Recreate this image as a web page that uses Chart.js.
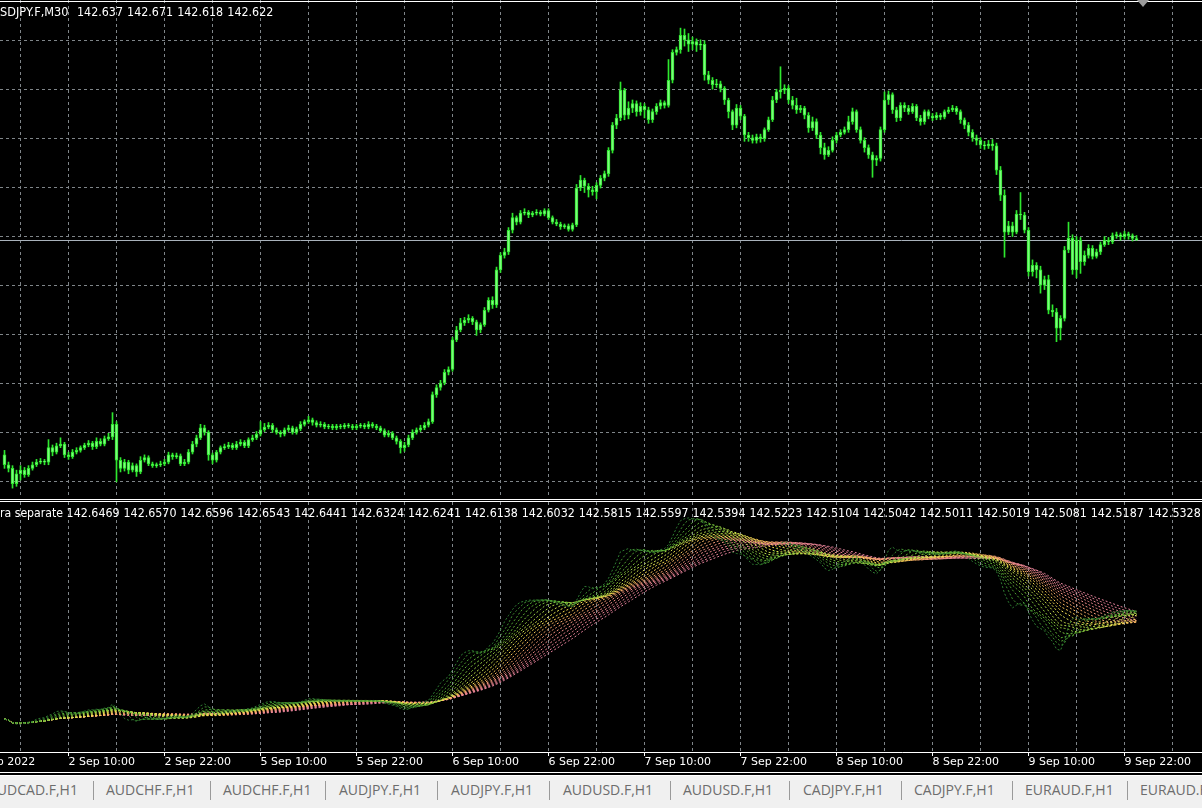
<!DOCTYPE html>
<html>
<head>
<meta charset="utf-8">
<title>USDJPY.F,M30</title>
<script src="https://cdn.jsdelivr.net/npm/chart.js@4.4.1/dist/chart.umd.min.js"></script>
<style>
  html, body { margin: 0; padding: 0; background: #000; }
  body { position: relative; width: 1202px; height: 808px; overflow: hidden; font-family: "DejaVu Sans", sans-serif; }
  canvas { position: absolute; left: 0; }
  #priceChart { top: 0; }
  #ribbonChart { top: 502px; }
  .line { position: absolute; left: 0; width: 1202px; height: 1px; background: #fff; }
  #tabs { position: absolute; left: 0; top: 776px; width: 1202px; height: 32px; background: #f0f0f0;
          font-family: "Open Sans", sans-serif; font-size: 14px; color: #6d6d6d; }
  #tabs span { position: absolute; top: 4px; line-height: 20px; white-space: nowrap; }
  #tabs i { position: absolute; top: 5px; width: 1px; height: 19px; background: #9a9a9a; }
  #shift { position: absolute; left: 1137px; top: 0; width: 0; height: 0;
           border-left: 6px solid transparent; border-right: 6px solid transparent; border-top: 7px solid #9a9a9a; }
</style>
</head>
<body>
<canvas id="priceChart" width="1202" height="498"></canvas>
<canvas id="ribbonChart" width="1202" height="270"></canvas>
<div class="line" style="top:1px"></div>
<div class="line" style="top:499px"></div>
<div class="line" style="top:501px"></div>
<div class="line" style="top:772px"></div>
<div class="line" style="top:775px"></div>
<div id="shift"></div>
<div id="tabs">
  <span style="left:-12px">AUDCAD.F,H1</span><i style="left:93px"></i>
  <span style="left:106px">AUDCHF.F,H1</span><i style="left:210px"></i>
  <span style="left:223px">AUDCHF.F,H1</span><i style="left:325px"></i>
  <span style="left:339px">AUDJPY.F,H1</span><i style="left:437px"></i>
  <span style="left:451px">AUDJPY.F,H1</span><i style="left:549px"></i>
  <span style="left:563px">AUDUSD.F,H1</span><i style="left:670px"></i>
  <span style="left:683px">AUDUSD.F,H1</span><i style="left:789px"></i>
  <span style="left:803px">CADJPY.F,H1</span><i style="left:901px"></i>
  <span style="left:914px">CADJPY.F,H1</span><i style="left:1012px"></i>
  <span style="left:1025px">EURAUD.F,H1</span><i style="left:1127px"></i>
  <span style="left:1140px">EURAUD.F,H1</span>
</div>
<script>
// USDJPY M30, 2 Sep 02:00 .. 9 Sep 23:30 (2022)
const symbol = "USDJPY.F,M30";
const ribbonName = "Extra separate";

const opens = [
  140.23, 140.12, 140.08, 139.91,
  140.02, 140.06, 140.01, 140.08, 140.12, 140.15, 140.16, 140.15, 140.31, 140.26, 140.33, 140.35,
  140.23, 140.21, 140.26, 140.28, 140.31, 140.34, 140.36, 140.32, 140.38, 140.35, 140.41, 140.43,
  140.57, 140.17, 140.08, 140.15, 140.06, 140.11, 140.04, 140.17, 140.20, 140.13, 140.11, 140.12,
  140.13, 140.15, 140.23, 140.21, 140.22, 140.13, 140.15, 140.26, 140.35, 140.42, 140.53, 140.48,
  140.23, 140.17, 140.26, 140.31, 140.32, 140.34, 140.31, 140.35, 140.37, 140.33, 140.40, 140.42,
  140.46, 140.51, 140.54, 140.56, 140.51, 140.48, 140.46, 140.51, 140.53, 140.48, 140.52, 140.57,
  140.60, 140.62, 140.59, 140.56, 140.57, 140.54, 140.55, 140.53, 140.55, 140.54, 140.56, 140.55,
  140.53, 140.55, 140.56, 140.54, 140.57, 140.55, 140.53, 140.50, 140.45, 140.47, 140.42, 140.38,
  140.31, 140.34, 140.42, 140.48, 140.51, 140.53, 140.56, 140.60, 140.90, 140.98, 141.03, 141.15,
  141.18, 141.51, 141.62, 141.70, 141.73, 141.75, 141.71, 141.62, 141.68, 141.84, 141.95, 141.90,
  142.29, 142.45, 142.49, 142.73, 142.87, 142.82, 142.92, 142.93, 142.90, 142.92, 142.93, 142.91,
  142.95, 142.87, 142.82, 142.80, 142.77, 142.78, 142.74, 142.79, 143.20, 143.29, 143.22, 143.18,
  143.16, 143.23, 143.31, 143.36, 143.62, 143.90, 143.98, 144.29, 144.01, 144.09, 144.14, 144.05,
  144.11, 144.07, 143.96, 144.05, 144.11, 144.15, 144.12, 144.40, 144.71, 144.74, 144.90, 144.85,
  144.80, 144.83, 144.79, 144.80, 144.46, 144.40, 144.35, 144.36, 144.31, 144.18, 144.05, 143.90,
  144.09, 144.00, 143.79, 143.76, 143.73, 143.77, 143.75, 143.85, 143.96, 144.18, 144.27, 144.29,
  144.31, 144.18, 144.12, 144.07, 144.09, 144.01, 143.87, 143.94, 143.79, 143.65, 143.57, 143.62,
  143.73, 143.79, 143.82, 143.85, 143.94, 144.05, 143.85, 143.73, 143.65, 143.57, 143.51, 143.53,
  143.85, 144.18, 144.24, 144.07, 143.98, 144.12, 144.09, 144.05, 144.11, 143.98, 143.94, 144.05,
  144.00, 143.98, 144.01, 143.99, 144.05, 144.07, 144.09, 144.05, 143.96, 143.90, 143.82, 143.76,
  143.73, 143.68, 143.67, 143.69, 143.67, 143.40, 143.12, 142.71, 142.78, 142.71, 142.91, 142.90,
  142.73, 142.27, 142.34, 142.29, 142.12, 142.18, 141.84, 141.82, 141.64, 141.75, 142.51, 142.64,
  142.29, 142.62, 142.38, 142.45, 142.53, 142.44, 142.49, 142.57, 142.62, 142.60, 142.67, 142.68,
  142.66, 142.69, 142.67, 142.637
];
const highs = [
  140.28, 140.15, 140.11, 140.06,
  140.11, 140.09, 140.11, 140.15, 140.18, 140.19, 140.18, 140.40, 140.34, 140.36, 140.42, 140.37,
  140.26, 140.29, 140.31, 140.33, 140.36, 140.39, 140.38, 140.42, 140.41, 140.44, 140.47, 140.70,
  140.60, 140.20, 140.18, 140.17, 140.14, 140.13, 140.21, 140.23, 140.22, 140.15, 140.14, 140.16,
  140.18, 140.26, 140.25, 140.25, 140.24, 140.18, 140.29, 140.38, 140.45, 140.57, 140.56, 140.50,
  140.25, 140.28, 140.33, 140.35, 140.37, 140.36, 140.38, 140.40, 140.39, 140.42, 140.45, 140.49,
  140.60, 140.58, 140.59, 140.58, 140.53, 140.50, 140.53, 140.56, 140.55, 140.54, 140.60, 140.62,
  140.66, 140.64, 140.61, 140.60, 140.59, 140.57, 140.57, 140.57, 140.57, 140.58, 140.58, 140.57,
  140.57, 140.58, 140.58, 140.60, 140.59, 140.57, 140.55, 140.52, 140.50, 140.49, 140.44, 140.40,
  140.37, 140.45, 140.51, 140.53, 140.56, 140.59, 140.63, 140.93, 141.01, 141.06, 141.18, 141.21,
  141.54, 141.66, 141.75, 141.76, 141.79, 141.77, 141.73, 141.70, 141.87, 141.98, 141.99, 142.32,
  142.48, 142.53, 142.76, 142.92, 142.89, 142.95, 142.97, 142.95, 142.94, 142.96, 142.95, 142.97,
  142.97, 142.89, 142.85, 142.82, 142.80, 142.80, 142.81, 143.24, 143.34, 143.31, 143.25, 143.22,
  143.26, 143.34, 143.39, 143.65, 143.93, 144.02, 144.38, 144.31, 144.16, 144.18, 144.17, 144.15,
  144.14, 144.10, 144.08, 144.14, 144.18, 144.17, 144.63, 144.74, 144.77, 144.98, 144.97, 144.92,
  144.88, 144.86, 144.85, 144.84, 144.50, 144.43, 144.41, 144.39, 144.33, 144.20, 144.07, 144.13,
  144.12, 144.02, 143.82, 143.79, 143.80, 143.80, 143.87, 143.99, 144.22, 144.30, 144.55, 144.35,
  144.34, 144.22, 144.20, 144.12, 144.11, 144.04, 143.99, 143.97, 143.82, 143.70, 143.66, 143.77,
  143.82, 143.85, 143.88, 144.00, 144.09, 144.07, 143.88, 143.76, 143.68, 143.60, 143.56, 143.88,
  144.27, 144.28, 144.26, 144.10, 144.15, 144.15, 144.12, 144.14, 144.13, 144.01, 144.07, 144.07,
  144.03, 144.04, 144.03, 144.07, 144.10, 144.12, 144.11, 144.07, 143.98, 143.93, 143.85, 143.79,
  143.76, 143.72, 143.73, 143.74, 143.70, 143.44, 143.18, 142.83, 142.82, 142.95, 143.15, 142.93,
  142.76, 142.40, 142.37, 142.33, 142.22, 142.23, 141.90, 141.86, 141.78, 142.55, 142.82, 142.68,
  142.66, 142.65, 142.50, 142.57, 142.56, 142.52, 142.60, 142.66, 142.65, 142.70, 142.71, 142.70,
  142.72, 142.71, 142.69, 142.671
];
const lows = [
  140.08, 140.04, 139.86, 139.88,
  139.95, 139.98, 139.99, 140.06, 140.10, 140.13, 140.12, 140.12, 140.22, 140.24, 140.31, 140.20,
  140.18, 140.19, 140.24, 140.26, 140.29, 140.32, 140.29, 140.30, 140.33, 140.33, 140.39, 140.40,
  139.93, 140.04, 140.05, 140.02, 140.04, 139.99, 140.02, 140.15, 140.11, 140.09, 140.09, 140.10,
  140.11, 140.13, 140.18, 140.19, 140.11, 140.11, 140.13, 140.24, 140.32, 140.40, 140.45, 140.17,
  140.13, 140.15, 140.24, 140.29, 140.30, 140.29, 140.29, 140.33, 140.31, 140.31, 140.38, 140.40,
  140.44, 140.49, 140.52, 140.48, 140.46, 140.43, 140.44, 140.49, 140.46, 140.46, 140.50, 140.55,
  140.58, 140.56, 140.54, 140.54, 140.52, 140.52, 140.51, 140.51, 140.52, 140.52, 140.53, 140.51,
  140.51, 140.53, 140.52, 140.52, 140.53, 140.51, 140.48, 140.43, 140.43, 140.40, 140.35, 140.25,
  140.27, 140.32, 140.40, 140.46, 140.49, 140.51, 140.54, 140.58, 140.87, 140.95, 141.01, 141.12,
  141.16, 141.49, 141.60, 141.67, 141.70, 141.68, 141.56, 141.59, 141.66, 141.82, 141.86, 141.87,
  142.26, 142.42, 142.46, 142.70, 142.79, 142.80, 142.90, 142.87, 142.88, 142.90, 142.89, 142.89,
  142.85, 142.80, 142.78, 142.74, 142.75, 142.72, 142.72, 142.77, 143.17, 143.15, 143.10, 143.12,
  143.08, 143.20, 143.28, 143.33, 143.59, 143.86, 143.95, 143.96, 143.97, 144.04, 144.00, 144.01,
  143.98, 143.92, 143.93, 144.02, 144.08, 144.09, 144.10, 144.37, 144.68, 144.70, 144.78, 144.72,
  144.74, 144.72, 144.74, 144.40, 144.36, 144.30, 144.32, 144.27, 144.13, 143.98, 143.85, 143.87,
  143.96, 143.72, 143.72, 143.70, 143.70, 143.71, 143.72, 143.83, 143.94, 144.15, 144.20, 144.25,
  144.14, 144.08, 144.03, 144.04, 143.97, 143.82, 143.84, 143.75, 143.58, 143.52, 143.55, 143.60,
  143.70, 143.77, 143.80, 143.82, 143.91, 143.82, 143.70, 143.60, 143.53, 143.32, 143.45, 143.50,
  143.82, 144.13, 144.03, 143.94, 143.95, 144.05, 144.02, 144.03, 143.95, 143.90, 143.91, 143.97,
  143.95, 143.96, 143.96, 143.97, 144.03, 144.05, 144.02, 143.92, 143.86, 143.78, 143.72, 143.68,
  143.64, 143.63, 143.64, 143.62, 143.35, 143.06, 142.43, 142.68, 142.66, 142.69, 142.85, 142.70,
  142.22, 142.22, 142.20, 142.03, 142.07, 141.80, 141.77, 141.49, 141.51, 141.72, 142.48, 142.24,
  142.20, 142.25, 142.34, 142.42, 142.41, 142.42, 142.46, 142.55, 142.57, 142.58, 142.64, 142.62,
  142.63, 142.63, 142.61, 142.618
];
const closes = [
  140.12, 140.08, 139.91, 140.02,
  140.06, 140.01, 140.08, 140.12, 140.15, 140.16, 140.15, 140.31, 140.26, 140.33, 140.35, 140.23,
  140.21, 140.26, 140.28, 140.31, 140.34, 140.36, 140.32, 140.38, 140.35, 140.41, 140.43, 140.57,
  140.17, 140.08, 140.15, 140.06, 140.11, 140.04, 140.17, 140.20, 140.13, 140.11, 140.12, 140.13,
  140.15, 140.23, 140.21, 140.22, 140.13, 140.15, 140.26, 140.35, 140.42, 140.53, 140.48, 140.23,
  140.17, 140.26, 140.31, 140.32, 140.34, 140.31, 140.35, 140.37, 140.33, 140.40, 140.42, 140.46,
  140.51, 140.54, 140.56, 140.51, 140.48, 140.46, 140.51, 140.53, 140.48, 140.52, 140.57, 140.60,
  140.62, 140.59, 140.56, 140.57, 140.54, 140.55, 140.53, 140.55, 140.54, 140.56, 140.55, 140.53,
  140.55, 140.56, 140.54, 140.57, 140.55, 140.53, 140.50, 140.45, 140.47, 140.42, 140.38, 140.31,
  140.34, 140.42, 140.48, 140.51, 140.53, 140.56, 140.60, 140.90, 140.98, 141.03, 141.15, 141.18,
  141.51, 141.62, 141.70, 141.73, 141.75, 141.71, 141.62, 141.68, 141.84, 141.95, 141.90, 142.29,
  142.45, 142.49, 142.73, 142.87, 142.82, 142.92, 142.93, 142.90, 142.92, 142.93, 142.91, 142.95,
  142.87, 142.82, 142.80, 142.77, 142.78, 142.74, 142.79, 143.20, 143.29, 143.22, 143.18, 143.16,
  143.23, 143.31, 143.36, 143.62, 143.90, 143.98, 144.29, 144.01, 144.09, 144.14, 144.05, 144.11,
  144.07, 143.96, 144.05, 144.11, 144.15, 144.12, 144.40, 144.71, 144.74, 144.90, 144.85, 144.80,
  144.83, 144.79, 144.80, 144.46, 144.40, 144.35, 144.36, 144.31, 144.18, 144.05, 143.90, 144.09,
  144.00, 143.79, 143.76, 143.73, 143.77, 143.75, 143.85, 143.96, 144.18, 144.27, 144.29, 144.31,
  144.18, 144.12, 144.07, 144.09, 144.01, 143.87, 143.94, 143.79, 143.65, 143.57, 143.62, 143.73,
  143.79, 143.82, 143.85, 143.94, 144.05, 143.85, 143.73, 143.65, 143.57, 143.51, 143.53, 143.85,
  144.18, 144.24, 144.07, 143.98, 144.12, 144.09, 144.05, 144.11, 143.98, 143.94, 144.05, 144.00,
  143.98, 144.01, 143.99, 144.05, 144.07, 144.09, 144.05, 143.96, 143.90, 143.82, 143.76, 143.73,
  143.68, 143.67, 143.69, 143.67, 143.40, 143.12, 142.71, 142.78, 142.71, 142.91, 142.90, 142.73,
  142.27, 142.34, 142.29, 142.12, 142.18, 141.84, 141.82, 141.64, 141.75, 142.51, 142.64, 142.29,
  142.62, 142.38, 142.45, 142.53, 142.44, 142.49, 142.57, 142.62, 142.60, 142.67, 142.68, 142.66,
  142.69, 142.67, 142.64, 142.622
];

// time axis: bar index of each label (bar 0 = 2 Sep 02:00, one bar = 30 min)
const timeLabels = ["1 Sep 2022", "2 Sep 10:00", "2 Sep 22:00", "5 Sep 10:00", "5 Sep 22:00", "6 Sep 10:00",
  "6 Sep 22:00", "7 Sep 10:00", "7 Sep 22:00", "8 Sep 10:00", "8 Sep 22:00", "9 Sep 10:00", "9 Sep 22:00"];
const labelBars = [-8, 16, 40, 64, 88, 112, 136, 160, 184, 208, 232, 256, 280];

// ribbon: 20 moving averages, and the values printed in its header
const ribbonPeriods = [3, 5, 7, 9, 11, 13, 15, 17, 19, 21, 23, 25, 27, 29, 31, 33, 35, 37, 39, 41];
const ribbonLegend = [142.6469, 142.6570, 142.6596, 142.6543, 142.6441, 142.6324, 142.6241, 142.6138, 142.6032, 142.5815,
  142.5597, 142.5394, 142.5223, 142.5104, 142.5042, 142.5011, 142.5019, 142.5081, 142.5187, 142.5328];

const ribbonColors = ["#2e7d32", "#3f8f2f", "#4fa232", "#62b436", "#7cc43c", "#98d042", "#b4da48", "#ccdf4e", "#e6e450", "#f6de50",
  "#facc58", "#f8b860", "#f6a86a", "#f49c76", "#f29480", "#f08c8a", "#ee8890", "#ea8494", "#e68298", "#e2809a"];
const gridColor = "#7f8589";
const candleColor = "#2ee82e";
const captionFont = "normal 12px DejaVu Sans";

Chart.defaults.font.family = "DejaVu Sans";
Chart.defaults.animation = false;

const last = closes.length - 1;

// vertical grid every 12 bars, horizontal grid levels of the price window
const gridBars = [];
for (let b = 4; b < 300; b += 12) gridBars.push(b);
const priceGrid = [];
for (let k = 0; k < 10; k++) priceGrid.push(144.842 - k * 0.5454);

// draws caption pieces; each piece is fitted so that `fit` (or the text) spans `width` px
function caption(pieces, y) {
  return {
    id: "caption",
    afterDraw(chart) {
      const c = chart.ctx;
      c.save();
      c.font = captionFont;
      c.fillStyle = "#ffffff";
      c.textBaseline = "middle";
      for (const p of pieces) {
        const f = p.width / c.measureText(p.fit || p.text).width;
        c.save();
        c.translate(p.x, y);
        c.scale(f, 1);
        c.textAlign = p.align;
        c.fillText(p.text, 0, 0);
        c.restore();
      }
      c.restore();
    }
  };
}

const bidLine = {
  id: "bidLine",
  beforeDatasetsDraw(chart) {
    const y = Math.round(chart.scales.y.getPixelForValue(closes[last])) + 0.5;
    const c = chart.ctx;
    c.save();
    c.strokeStyle = "#a9b2bb";
    c.lineWidth = 1;
    c.beginPath();
    c.moveTo(chart.chartArea.left, y);
    c.lineTo(chart.chartArea.right, y);
    c.stroke();
    c.restore();
  }
};

const ohlc = [opens[last], highs[last], lows[last], closes[last]].map(v => v.toFixed(3));
const topPieces = [{ text: symbol, fit: symbol.slice(1), x: 68.5, width: 68.5, align: "right" }]
  .concat(ohlc.map((t, k) => ({ text: t, x: 77 + k * 50.1, width: 46, align: "left" })));
const ribbonPieces = [{ text: ribbonName, fit: ribbonName.slice(3), x: 63, width: 63, align: "right" }]
  .concat(ribbonLegend.map((v, k) => ({ text: v.toFixed(4), x: 66.6 + k * 56.9, width: 53, align: "left" })));

new Chart(document.getElementById("priceChart"), {
  type: "bar",
  data: {
    datasets: [
      {
        label: "body",
        data: opens.map((o, i) => ({ x: i, y: [o, closes[i]] })),
        backgroundColor: "#7dfb7d",
        borderColor: candleColor,
        borderWidth: 1,
        borderSkipped: false,
        barThickness: 3,
        minBarLength: 1,
        grouped: false
      },
      {
        label: "wick",
        data: highs.map((h, i) => ({ x: i, y: [lows[i], h] })),
        backgroundColor: candleColor,
        barThickness: 1,
        grouped: false
      }
    ]
  },
  options: {
    responsive: false,
    layout: { padding: 0 },
    plugins: { legend: { display: false }, tooltip: { enabled: false } },
    scales: {
      x: {
        type: "linear", min: -1.125, max: 299.375, offset: false,
        afterBuildTicks: s => { s.ticks = gridBars.map(v => ({ value: v })); },
        ticks: { display: false },
        grid: { color: gridColor, drawTicks: false, offset: false },
        border: { display: false, dash: [3, 3] }
      },
      y: {
        min: 139.750, max: 145.293, beginAtZero: false,
        afterBuildTicks: s => { s.ticks = priceGrid.map(v => ({ value: v })); },
        ticks: { display: false },
        grid: { color: gridColor, drawTicks: false },
        border: { display: false, dash: [3, 3] }
      }
    }
  },
  plugins: [bidLine, caption(topPieces, 12.5)]
});

function movingAverage(values, period) {
  return values.map((v, i) => {
    const from = Math.max(0, i - period + 1);
    let sum = 0;
    for (let j = from; j <= i; j++) sum += values[j];
    return { x: i, y: sum / (i - from + 1) };
  });
}

new Chart(document.getElementById("ribbonChart"), {
  type: "line",
  data: {
    datasets: ribbonPeriods.map((p, k) => ({
      label: "MA" + p,
      data: movingAverage(closes, p),
      borderColor: ribbonColors[k],
      borderWidth: 1,
      borderDash: [2, 2],
      pointRadius: 0,
      tension: 0
    }))
  },
  options: {
    responsive: false,
    layout: { padding: 0 },
    plugins: { legend: { display: false }, tooltip: { enabled: false } },
    scales: {
      x: {
        type: "linear", min: -1.125, max: 299.375,
        afterBuildTicks: s => { s.ticks = [-8].concat(gridBars).map(v => ({ value: v })); },
        afterFit: s => { s.paddingLeft = 0; s.paddingRight = 0; s.height = 20; },
        ticks: {
          autoSkip: false, maxRotation: 0, align: "start", padding: 0, color: "#ffffff",
          font: { size: 11 },
          callback: v => { const k = labelBars.indexOf(v); return k >= 0 ? timeLabels[k] : ""; }
        },
        grid: {
          color: gridColor, tickLength: 4,
          tickColor: c => (c.tick && labelBars.includes(c.tick.value)) ? "#ffffff" : "rgba(0,0,0,0)"
        },
        border: { display: true, color: "#ffffff", dash: [3, 3] }
      },
      y: { display: false, min: 139.348, max: 145.223 }
    }
  },
  plugins: [caption(ribbonPieces, 11.5)]
});
</script>
</body>
</html>
